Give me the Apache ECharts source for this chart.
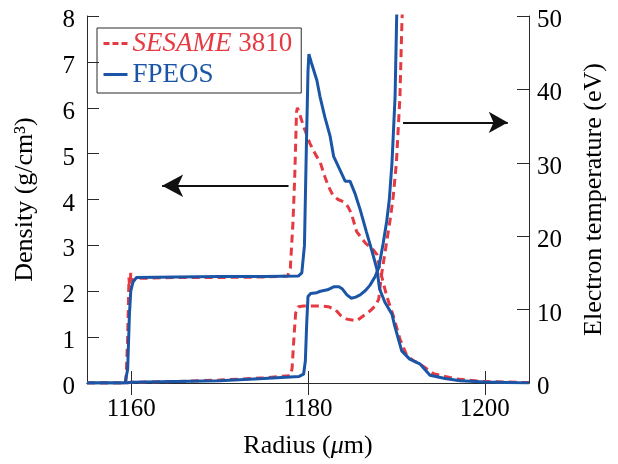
<!DOCTYPE html>
<html><head><meta charset="utf-8">
<script src="https://cdn.jsdelivr.net/npm/echarts@6/dist/echarts.min.js"></script>
<style>html,body{margin:0;padding:0;background:#fff}#c{width:618px;height:464px}</style>
</head><body><div id="c"></div>
<script>
// ---- data ----
const xTickValues = [1160, 1180, 1200];
const densityTicks = [0, 1, 2, 3, 4, 5, 6, 7, 8];
const tempTicks = [0, 10, 20, 30, 40, 50];

const sesameDensityR = [1155,1159.4,1159.6,1159.75,1159.85,1159.95,1160.1,1160.5,1165,1170,1175,1177.7,1178.0,1178.3,1178.5,1178.7,1178.8,1179.0,1179.5,1180.2,1180.8,1181.4,1181.9,1182.3,1182.8,1183.4,1184.0,1184.5,1184.9,1185.5,1186.5,1187.4,1187.8,1188.1,1188.9,1189.65,1190.4,1191.2,1192.0,1192.7,1194.2,1196.8,1200,1205];
const sesameDensity  = [0,0,1.0,2.3,2.0,2.4,2.2,2.28,2.3,2.3,2.31,2.33,2.5,3.5,4.5,5.9,6.0,5.9,5.59,5.23,5.0,4.8,4.5,4.29,4.1,4.0,3.95,3.85,3.7,3.3,3.05,2.9,2.8,2.5,1.9,1.46,0.96,0.59,0.48,0.41,0.2,0.09,0.03,0.01];

const fpeosDensityR = [1155,1159.3,1159.6,1159.8,1159.95,1160.2,1160.6,1165,1170,1175,1178.9,1179.3,1179.6,1179.8,1180.0,1180.1,1180.4,1181.0,1181.35,1181.9,1182.5,1182.9,1183.6,1184.2,1184.75,1185.3,1185.9,1186.6,1187.2,1187.8,1188.1,1188.7,1189.5,1189.8,1190.6,1191.5,1192.7,1193.8,1195.5,1197.2,1200,1205];
const fpeosDensity  = [0,0,0.3,1.5,2.0,2.2,2.3,2.31,2.32,2.32,2.33,2.4,3.0,5.0,6.8,7.17,6.97,6.6,6.25,5.8,5.38,4.94,4.65,4.4,4.4,4.14,3.78,3.3,2.9,2.48,2.05,1.76,1.5,1.25,0.7,0.52,0.41,0.17,0.1,0.05,0.02,0.0];

const sesameTempR = [1155,1159.5,1160,1165,1170,1175,1178,1178.2,1178.4,1178.6,1178.9,1179.5,1180.5,1181.4,1182.3,1183.1,1183.7,1184.4,1185.5,1186.2,1187.0,1187.6,1188.0,1188.3,1188.7,1189.3,1189.65,1190.0,1190.4,1190.6,1190.9];
const sesameTemp  = [0,0,0.1,0.2,0.4,0.7,1.0,2,6,9.5,10.4,10.5,10.5,10.5,10.4,10.0,9.2,8.7,8.47,9.1,9.8,10.5,11.4,14.6,17.7,22.3,25.5,30,39,48,60];

const fpeosTempR = [1155,1159.5,1160,1165,1170,1175,1179,1179.5,1179.7,1179.85,1180.0,1180.3,1181.0,1181.4,1182.2,1182.9,1183.5,1183.9,1184.4,1184.9,1185.4,1185.9,1186.5,1187.0,1187.6,1188.0,1188.5,1188.9,1189.2,1189.5,1189.85,1190.0,1190.2];
const fpeosTemp  = [0,0,0.1,0.2,0.3,0.6,0.9,1.2,3,8,11.8,12.2,12.3,12.5,12.7,13.1,13.1,12.8,12.0,11.55,11.7,12.0,12.6,13.3,14.5,15.7,19.0,22.0,25,30,39,48,60];

const seriesNames = ['SESAME 3810', 'FPEOS'];

// ---- style ----
const RED = '#e53a42', BLUE = '#1b55a6', FRAME = '#2a2a2a';
const FONT = '"Liberation Serif", "DejaVu Serif", serif';
const FS = 25;
const zip = (a, b) => a.map((v, i) => [v, b[i]]);
const shifted = v => '{s|' + v + '}';
const labelRich = {s: {fontFamily: FONT, fontSize: FS, color: '#000', padding: [9, 0, 0, 0]}};

const chart = echarts.init(document.getElementById('c'), null, {renderer: 'canvas'});
const lineBase = {type: 'line', symbol: 'none', showSymbol: false, smooth: false, clip: true, animation: false, silent: true};

const option = {
  animation: false,
  grid: {left: 87, right: 89, top: 16, bottom: 80},
  legend: {
    left: 97, top: 28, orient: 'vertical',
    borderColor: FRAME, borderWidth: 1, padding: [2, 9, 5, 5],
    itemGap: 4, itemWidth: 24, itemHeight: 14,
    itemStyle: {color: 'rgba(0,0,0,0)', borderWidth: 0, opacity: 0},
    data: [
      {name: seriesNames[0], textStyle: {color: RED}, lineStyle: {type: [6, 3], width: 3, color: RED}},
      {name: seriesNames[1], textStyle: {color: BLUE}, lineStyle: {type: 'solid', width: 3, color: BLUE}}
    ],
    formatter: n => n === seriesNames[0] ? '{i|SESAME} 3810' : n,
    textStyle: {fontFamily: FONT, fontSize: 27, lineHeight: 26,
      rich: {i: {fontStyle: 'italic', fontFamily: FONT, fontSize: 27, color: RED, lineHeight: 26}}},
    selectedMode: false
  },
  xAxis: [{
    type: 'value', min: 1155, max: 1205, position: 'bottom',
    name: 'Radius ({i|μ}m)', nameLocation: 'middle', nameGap: 50,
    nameTextStyle: {fontFamily: FONT, fontSize: 26, color: '#000',
      rich: {i: {fontStyle: 'italic', fontFamily: FONT, fontSize: 26, color: '#000'}}},
    axisLine: {show: true, lineStyle: {color: FRAME, width: 1}},
    axisTick: {show: true, inside: true, length: 12, customValues: xTickValues, lineStyle: {color: FRAME}},
    axisLabel: {customValues: xTickValues, formatter: v => String(v), fontFamily: FONT, fontSize: FS, color: '#000', margin: 14},
    splitLine: {show: false}
  }, {
    type: 'value', min: 1155, max: 1205, position: 'top',
    axisLine: {show: true, lineStyle: {color: FRAME, width: 1}},
    axisTick: {show: true, inside: true, length: 12, customValues: xTickValues, lineStyle: {color: FRAME}},
    axisLabel: {show: false},
    splitLine: {show: false}
  }],
  yAxis: [{
    type: 'value', min: 0, max: 8, interval: 1, position: 'left',
    name: 'Density (g/cm³)', nameLocation: 'middle', nameGap: 49,
    nameTextStyle: {fontFamily: FONT, fontSize: 26, color: '#000'},
    axisLine: {show: true, lineStyle: {color: FRAME, width: 1}},
    axisTick: {show: true, inside: true, length: 12, customValues: densityTicks, lineStyle: {color: FRAME}},
    axisLabel: {customValues: densityTicks, formatter: shifted, rich: labelRich, fontFamily: FONT, fontSize: FS, color: '#000', margin: 12},
    splitLine: {show: false}
  }, {
    type: 'value', min: 0, max: 50, interval: 10, position: 'right',
    name: 'Electron temperature (eV)', nameLocation: 'middle', nameGap: 52,
    nameTextStyle: {fontFamily: FONT, fontSize: 26, color: '#000'},
    axisLine: {show: true, lineStyle: {color: FRAME, width: 1}},
    axisTick: {show: true, inside: true, length: 12, customValues: tempTicks, lineStyle: {color: FRAME}},
    axisLabel: {customValues: tempTicks, formatter: shifted, rich: labelRich, fontFamily: FONT, fontSize: FS, color: '#000', margin: 8},
    splitLine: {show: false}
  }],
  series: [
    Object.assign({}, lineBase, {name: seriesNames[0], yAxisIndex: 0, data: zip(sesameDensityR, sesameDensity),
      itemStyle: {color: RED}, lineStyle: {color: RED, width: 3, type: [8, 5]},
      markLine: {silent: true, symbol: ['none', 'arrow'], symbolSize: [17, 21], label: {show: false},
        lineStyle: {color: '#111', width: 2, type: 'solid'},
        data: [[{coord: [1177.8, 4.3]}, {coord: [1163.5, 4.3]}]]}}),
    Object.assign({}, lineBase, {name: seriesNames[0], yAxisIndex: 1, data: zip(sesameTempR, sesameTemp),
      itemStyle: {color: RED}, lineStyle: {color: RED, width: 3, type: [8, 5]},
      markLine: {silent: true, symbol: ['none', 'arrow'], symbolSize: [16, 19], label: {show: false},
        lineStyle: {color: '#111', width: 2, type: 'solid'},
        data: [[{coord: [1190.75, 35.5]}, {coord: [1202.6, 35.5]}]]}}),
    Object.assign({}, lineBase, {name: seriesNames[1], yAxisIndex: 0, data: zip(fpeosDensityR, fpeosDensity),
      itemStyle: {color: BLUE}, lineStyle: {color: BLUE, width: 3}}),
    Object.assign({}, lineBase, {name: seriesNames[1], yAxisIndex: 1, data: zip(fpeosTempR, fpeosTemp),
      itemStyle: {color: BLUE}, lineStyle: {color: BLUE, width: 3}})
  ]
};
chart.setOption(option);
</script>
</body></html>
